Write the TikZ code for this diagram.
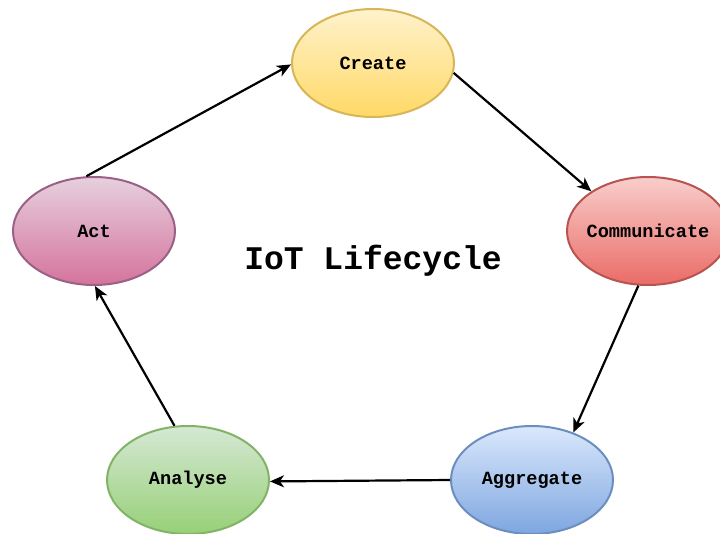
\documentclass[tikz,border=0pt]{standalone}
\usepackage{fontspec}
\setmonofont{Liberation Mono}
\usetikzlibrary{shapes.geometric,arrows.meta}
\definecolor{yA}{HTML}{FFF2CC}\definecolor{yB}{HTML}{FFD966}\definecolor{yS}{HTML}{D6B656}
\definecolor{rA}{HTML}{F8CECC}\definecolor{rB}{HTML}{EA6B66}\definecolor{rS}{HTML}{B85450}
\definecolor{bA}{HTML}{DAE8FC}\definecolor{bB}{HTML}{7EA6E0}\definecolor{bS}{HTML}{6C8EBF}
\definecolor{gA}{HTML}{D5E8D4}\definecolor{gB}{HTML}{97D077}\definecolor{gS}{HTML}{82B366}
\definecolor{pA}{HTML}{E6D0DE}\definecolor{pB}{HTML}{D5739D}\definecolor{pS}{HTML}{996185}
\newcommand{\stagetext}[1]{\makebox[0pt]{#1}}
\begin{document}
\begin{tikzpicture}[x=1pt,y=-1pt,
  stage/.style={ellipse, minimum width=162pt, minimum height=108pt, inner sep=0pt,
    line width=2pt, font=\fontsize{18.6}{20}\selectfont\ttfamily\bfseries},
  flow/.style={line width=2.2pt, -{Stealth[length=14pt,width=12pt,inset=4pt]}}]
\path[use as bounding box, clip] (0,0) rectangle (720,533);
\fill[white] (0,0) rectangle (720,533);
\node[stage, draw=yS, top color=yA, bottom color=yB] (create) at (373,63) {\stagetext{Create}};
\node[stage, draw=rS, top color=rA, bottom color=rB] (comm) at (648,231) {\stagetext{Communicate}};
\node[stage, draw=bS, top color=bA, bottom color=bB] (agg) at (532,480) {\stagetext{Aggregate}};
\node[stage, draw=gS, top color=gA, bottom color=gB] (ana) at (188,480) {\stagetext{Analyse}};
\node[stage, draw=pS, top color=pA, bottom color=pB] (act) at (94,231) {\stagetext{Act}};
\node[font=\fontsize{33}{36}\selectfont\ttfamily\bfseries] (title) at (373,261) {IoT Lifecycle};
\draw[flow] (act.98) -- (create.181);
\draw[flow] (create.-7) -- (comm.145);
\draw[flow] (comm.260) -- (agg.49);
\draw[flow] (agg.180) -- (ana.-1);
\draw[flow] (ana.104) -- (act.271);
\end{tikzpicture}
\end{document}
